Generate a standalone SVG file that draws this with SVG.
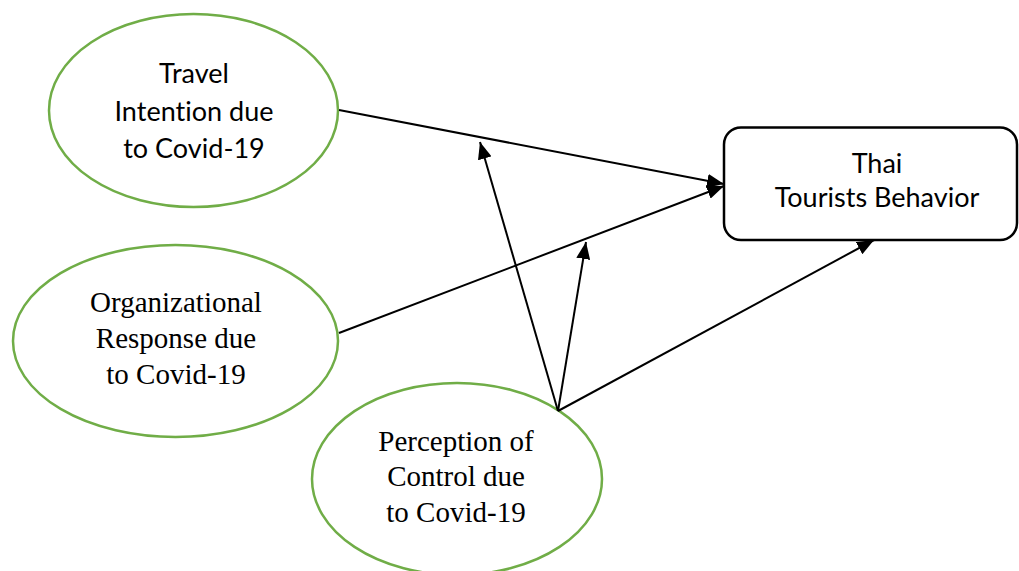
<svg xmlns="http://www.w3.org/2000/svg" width="1019" height="571" viewBox="0 0 1019 571">
<style>
.ell{fill:#fff;stroke:#70AD47;stroke-width:2.5}
.box{fill:#fff;stroke:#000;stroke-width:2.5}
.sans{font-family:Lato,"Open Sans",sans-serif;font-size:27px;fill:#000;text-anchor:middle;font-variant-ligatures:none;font-feature-settings:"liga" 0,"clig" 0,"dlig" 0;letter-spacing:0.01px}
.serif{font-family:"Liberation Serif","Times New Roman",serif;font-size:29px;fill:#000;text-anchor:middle}
.con{stroke:#000;stroke-width:2;fill:none;marker-end:url(#ah)}
</style>
<defs>
<marker id="ah" markerUnits="userSpaceOnUse" markerWidth="18" markerHeight="14" refX="17" refY="7" orient="auto">
<path d="M0,0 L17,7 L0,14 z" fill="#000"/>
</marker>
</defs>
<rect width="1019" height="571" fill="#fff"/>
<g id="node-travel">
<ellipse class="ell" cx="193.5" cy="110.5" rx="144.5" ry="96.5"/>
<text class="sans" x="194" y="83">Travel</text>
<text class="sans" x="194" y="121">Intention due</text>
<text class="sans" x="194" y="158">to Covid-19</text>
</g>
<g id="node-org">
<ellipse class="ell" cx="175.5" cy="341" rx="162.5" ry="96"/>
<text class="serif" x="176" y="312">Organizational</text>
<text class="serif" x="176" y="348">Response due</text>
<text class="serif" x="176" y="384">to Covid-19</text>
</g>
<g id="node-perception">
<ellipse class="ell" cx="457" cy="479" rx="145" ry="96"/>
<text class="serif" x="456" y="451">Perception of</text>
<text class="serif" x="456" y="486">Control due</text>
<text class="serif" x="456" y="522">to Covid-19</text>
</g>
<g id="node-thai">
<rect class="box" x="724" y="127.5" width="293" height="112.5" rx="17" ry="17"/>
<text class="sans" x="877" y="173">Thai</text>
<text class="sans" x="877" y="207">Tourists Behavior</text>
</g>
<g id="connectors">
<line class="con" x1="339" y1="110" x2="724" y2="184"/>
<line class="con" x1="339" y1="333" x2="724" y2="186"/>
<line class="con" x1="558" y1="411" x2="480" y2="142"/>
<line class="con" x1="558" y1="411" x2="586" y2="242"/>
<line class="con" x1="558" y1="411" x2="874" y2="240"/>
</g>
</svg>
